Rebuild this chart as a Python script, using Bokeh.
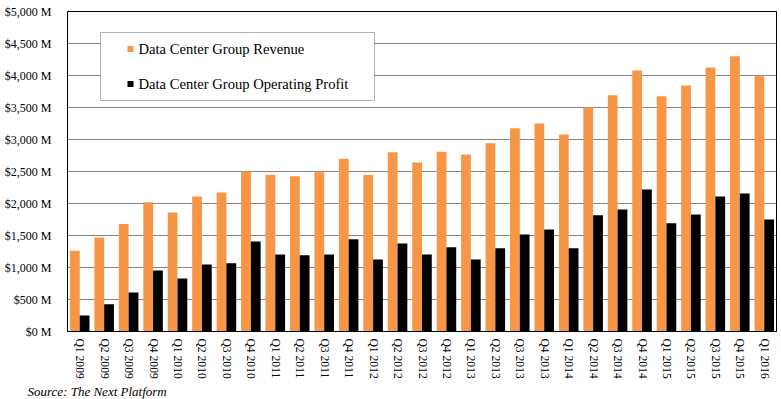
from bokeh.plotting import figure
from bokeh.models import FactorRange, FixedTicker, BoxAnnotation, Label, ColumnDataSource, Title
from bokeh.transform import dodge
from bokeh.embed import file_html
from bokeh.resources import INLINE

quarters = ["Q1 2009", "Q2 2009", "Q3 2009", "Q4 2009",
            "Q1 2010", "Q2 2010", "Q3 2010", "Q4 2010",
            "Q1 2011", "Q2 2011", "Q3 2011", "Q4 2011",
            "Q1 2012", "Q2 2012", "Q3 2012", "Q4 2012",
            "Q1 2013", "Q2 2013", "Q3 2013", "Q4 2013",
            "Q1 2014", "Q2 2014", "Q3 2014", "Q4 2014",
            "Q1 2015", "Q2 2015", "Q3 2015", "Q4 2015",
            "Q1 2016"]
revenue = [1260, 1470, 1680, 2020,
           1860, 2110, 2170, 2500,
           2450, 2425, 2490, 2700,
           2445, 2800, 2640, 2810,
           2765, 2940, 3175, 3250,
           3080, 3505, 3690, 4080,
           3675, 3845, 4125, 4300,
           3990]
profit = [250, 425, 610, 955,
          830, 1045, 1065, 1405,
          1205, 1190, 1205, 1440,
          1125, 1375, 1205, 1315,
          1125, 1300, 1515, 1595,
          1300, 1815, 1905, 2220,
          1690, 1830, 2110, 2155,
          1750]
series_names = ["Data Center Group Revenue", "Data Center Group Operating Profit"]
series_colors = ["#F79646", "#000000"]
y_ticks = [0, 500, 1000, 1500, 2000, 2500, 3000, 3500, 4000, 4500, 5000]
y_tick_labels = ["$0 M", "$500 M", "$1,000 M", "$1,500 M", "$2,000 M", "$2,500 M",
                 "$3,000 M", "$3,500 M", "$4,000 M", "$4,500 M", "$5,000 M"]
source_note = "Source: The Next Platform"

SERIF = "Liberation Serif"

src = ColumnDataSource(dict(q=quarters, rev=revenue, prof=profit))

p = figure(x_range=FactorRange(*quarters), y_range=(0, 5000),
           width=781, height=399, output_backend="svg", toolbar_location=None,
           min_border_left=67, min_border_right=5, min_border_top=11, min_border_bottom=68)
p.background_fill_color = "white"
p.border_fill_color = "white"
p.outline_line_color = "black"
p.outline_line_width = 1

p.vbar(x=dodge("q", -0.2, range=p.x_range), top="rev", width=0.4, source=src,
       fill_color=series_colors[0], line_color=None)
p.vbar(x=dodge("q", 0.2, range=p.x_range), top="prof", width=0.4, source=src,
       fill_color=series_colors[1], line_color=None)

p.xgrid.visible = False
p.ygrid.grid_line_color = "#868686"
p.ygrid.grid_line_width = 1

p.yaxis.ticker = FixedTicker(ticks=y_ticks)
p.yaxis.major_label_overrides = {t: l for t, l in zip(y_ticks, y_tick_labels)}
p.yaxis.major_tick_line_color = None
p.yaxis.minor_tick_line_color = None
p.yaxis.axis_line_color = "black"
p.yaxis.major_label_standoff = 10
p.yaxis.major_label_text_font = SERIF
p.yaxis.major_label_text_font_size = "12px"
p.yaxis.major_label_text_color = "black"

p.xaxis.major_label_orientation = "vertical"
p.xaxis.major_tick_line_color = None
p.xaxis.major_tick_out = 0
p.xaxis.axis_line_color = "black"
p.xaxis.major_label_standoff = 7
p.xaxis.axis_label_standoff = 0
p.xaxis.major_label_text_font = SERIF
p.xaxis.major_label_text_font_size = "11.6px"
p.xaxis.major_label_text_color = "black"

# legend box (frame-relative screen units)
p.add_layout(BoxAnnotation(left=33, right=307, top=299, bottom=231,
                           left_units="screen", right_units="screen",
                           top_units="screen", bottom_units="screen",
                           fill_color="white", fill_alpha=1.0,
                           line_color="black", line_width=1, level="annotation"))
for i, (name, col) in enumerate(zip(series_names, series_colors)):
    cy = 282.5 - 35 * i
    p.add_layout(BoxAnnotation(left=60, right=66, top=cy + 3, bottom=cy - 3,
                               left_units="screen", right_units="screen",
                               top_units="screen", bottom_units="screen",
                               fill_color=col, fill_alpha=1.0, line_color=None,
                               level="annotation"))
    p.add_layout(Label(x=71, y=cy, x_units="screen", y_units="screen", text=name,
                       text_font=SERIF, text_font_size="14.6px", text_color="black",
                       text_baseline="middle", text_align="left"))

p.add_layout(Title(text=source_note, align="left", offset=-40,
                   text_font=SERIF, text_font_size="13px", text_font_style="italic",
                   text_color="black", standoff=0), "below")

open("out.html", "w").write(file_html(p, INLINE))
